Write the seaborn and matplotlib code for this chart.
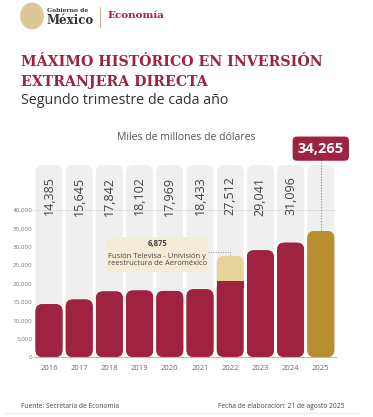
import matplotlib
matplotlib.use("Agg")
import seaborn as sns
import matplotlib.pyplot as plt
from matplotlib.patches import FancyBboxPatch, Rectangle, Circle
import pandas as pd

years = ["2016", "2017", "2018", "2019", "2020", "2021", "2022", "2023", "2024", "2025"]
totals = [14385, 15645, 17842, 18102, 17969, 18433, 27512, 29041, 31096, 34265]
extra = [0, 0, 0, 0, 0, 0, 6875, 0, 0, 0]
extra_note = "Fusión Televisa - Univisión y\nreestructura de Aeroméxico"
yticks = [0, 5000, 10000, 15000, 20000, 25000, 30000, 35000, 40000]

GUINDA = "#9F2241"
DORADO = "#B98E30"
CREMA = "#E7D49B"
GRIS = "#EFEFEF"

base = [t - e for t, e in zip(totals, extra)]
df = pd.DataFrame({"year": years, "total": totals, "base": base})

sns.set_style("white")
plt.rcParams["font.family"] = ["Open Sans", "DejaVu Sans"]

W, H = 373, 417
fig = plt.figure(figsize=(W / 100, H / 100), dpi=100)
ax = fig.add_axes([33.9 / W, (H - 357) / H, 302 / W, 192 / H])

YTOP = 52250
ax.set_xlim(-0.5, len(years) - 0.5)
ax.set_ylim(0, YTOP)
# y units per x unit (in pixels) so corners stay round
px_x = 1 / 30.2
px_y = YTOP / 192
ASPECT = px_y / px_x
R = 7 * px_x
BW = 0.89

# grey background columns
for i in range(len(years)):
    ax.add_patch(FancyBboxPatch((i - BW / 2, 0), BW, YTOP,
                                boxstyle=f"round,pad=0,rounding_size={R}",
                                mutation_aspect=ASPECT, fc=GRIS, ec="none",
                                zorder=0.5, clip_on=False))
ax.axhline(40000, color="#DADADA", lw=0.6, zorder=0.8)

top_colors = [CREMA if e > 0 else GUINDA for e in extra]
top_colors[-1] = DORADO
base_colors = [GUINDA] * (len(years) - 1) + [DORADO]

sns.barplot(data=df, x="year", y="total", hue="year", palette=top_colors,
            legend=False, width=BW, saturation=1, ax=ax)
sns.barplot(data=df, x="year", y="base", hue="year", palette=base_colors,
            legend=False, width=BW, saturation=1, ax=ax)

patches = list(ax.patches)
bars = [p for p in patches if isinstance(p, Rectangle) and not isinstance(p, FancyBboxPatch)]
for k, p in enumerate(bars):
    x, w, h = p.get_x(), p.get_width(), p.get_height()
    fc = p.get_facecolor()
    p.remove()
    ax.add_patch(FancyBboxPatch((x, 0), w, h,
                                boxstyle=f"round,pad=0,rounding_size={R}",
                                mutation_aspect=ASPECT, fc=fc, ec="none", zorder=2 + k / 100))
    if k >= len(years) and extra[k - len(years)] > 0:
        ax.add_patch(Rectangle((x, h - R * ASPECT), w, R * ASPECT, fc=fc, ec="none", zorder=2.5))

# rotated value labels
for i, v in enumerate(totals[:-1]):
    ax.text(i, 43800, f"{v:,}", rotation=90, ha="center", va="center",
            fontsize=9, color="#444444", zorder=3)

# highlighted last value
ax.plot([9, 9], [totals[-1] + 300, 53800], ls=(0, (1, 1.5)), color="#888888",
        lw=0.8, clip_on=False, zorder=1)
ax.text(9, 56700, f"{totals[-1]:,}", ha="center", va="center", fontsize=10.5,
        fontweight="bold", color="white", clip_on=False, zorder=4,
        bbox=dict(boxstyle="round,pad=0.35,rounding_size=0.3", fc=GUINDA, ec="none"))

# note for 2022
i22 = extra.index(max(extra))
bx0, bx1 = 1.92, 5.265
by0, by1 = 23120, 32640
ax.add_patch(FancyBboxPatch((bx0, by0), bx1 - bx0, by1 - by0,
                            boxstyle=f"round,pad=0,rounding_size={5 * px_x}",
                            mutation_aspect=ASPECT, fc="#F4ECD4", ec="none", zorder=3))
ax.text((bx0 + bx1) / 2, 30900, f"{extra[i22]:,}", ha="center", va="center",
        fontsize=5.5, fontweight="bold", color="#444444", zorder=4)
ax.text((bx0 + bx1) / 2, 26400, extra_note, ha="center", va="center",
        fontsize=5.5, color="#444444", linespacing=1.1, zorder=4)
ax.plot([bx1, i22, i22], [28560, 28560, totals[i22] + 200], ls=(0, (1, 1.5)),
        color="#999999", lw=0.7, zorder=3)

sns.despine(ax=ax, left=True, top=True, right=True)
ax.spines["bottom"].set_color("#BBBBBB")
ax.spines["bottom"].set_linewidth(0.8)
ax.set_yticks(yticks)
ax.set_yticklabels([f"{t:,}" for t in yticks])
ax.tick_params(axis="y", length=0, pad=1, labelsize=4.5, labelcolor="#777777")
ax.tick_params(axis="x", length=0, pad=6, labelsize=5.5, labelcolor="#666666")
ax.set_xlabel("")
ax.set_ylabel("")


def fy(py):
    return 1 - py / H


def fx(px):
    return px / W


# header
fig.patches.append(Circle((fx(32), fy(16)), 12 / W, transform=fig.transFigure,
                          fc="#DCC894", ec="none"))
fig.text(fx(47), fy(10), "Gobierno de", fontsize=4.3, fontweight="bold",
         color="#333333", va="center", family=["DejaVu Serif"])
fig.text(fx(46), fy(21), "México", fontsize=8.5, fontweight="bold",
         color="#333333", va="center", family=["DejaVu Serif"])
fig.add_artist(plt.Line2D([fx(100), fx(100)], [fy(7), fy(27)], color="#C9A96E", lw=0.6))
fig.text(fx(107), fy(16), "Economía", fontsize=7.5, fontweight="bold",
         color=GUINDA, va="center", family=["DejaVu Serif"])

# titles, scaled so the first line is about 300 px wide
t1 = fig.text(fx(21), fy(62), "MÁXIMO HISTÓRICO EN INVERSIÓN", fontsize=13,
              fontweight="bold", color=GUINDA, va="center", family=["DejaVu Serif"])
t2 = fig.text(fx(21), fy(82), "EXTRANJERA DIRECTA", fontsize=13,
              fontweight="bold", color=GUINDA, va="center", family=["DejaVu Serif"])
renderer = fig.canvas.get_renderer()
wid = t1.get_window_extent(renderer).width
size = 13 * 300 / wid
t1.set_fontsize(size)
t2.set_fontsize(size)

fig.text(fx(21), fy(101), "Segundo trimestre de cada año", fontsize=10.3,
         color="#333333", va="center")
fig.text(fx(186), fy(138), "Miles de millones de dólares", fontsize=7.5,
         color="#555555", ha="center", va="center")

# footer
fig.text(fx(21), fy(406), "Fuente: Secretaría de Economía", fontsize=4.8,
         color="#444444", va="center")
fig.text(fx(345), fy(406), "Fecha de elaboración: 21 de agosto 2025", fontsize=4.8,
         color="#444444", va="center", ha="right")
fig.add_artist(plt.Line2D([fx(5), fx(360)], [fy(413), fy(413)], color="#EEEEEE", lw=0.8))

plt.savefig("out.png", dpi=100)
